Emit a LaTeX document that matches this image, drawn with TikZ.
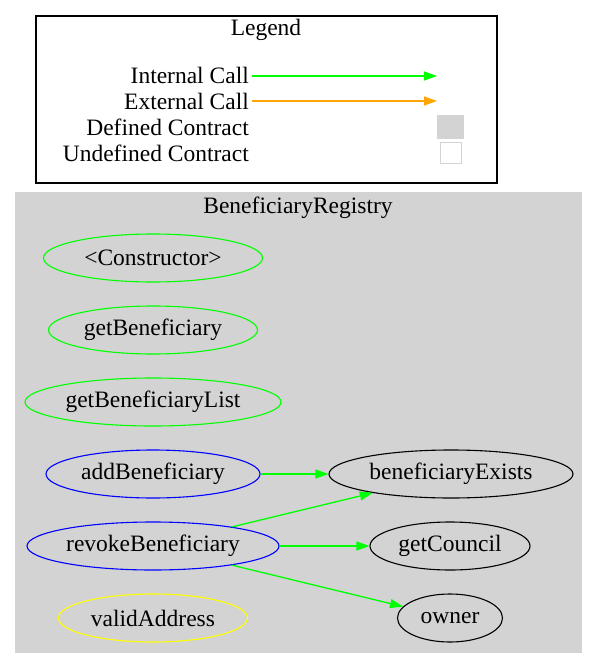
\documentclass[tikz,border=0pt]{standalone}
\usepackage{fontspec}
\setmainfont{Liberation Serif}
\usetikzlibrary{shapes.geometric,arrows.meta}
\definecolor{callgreen}{HTML}{00FF00}
\definecolor{callorange}{HTML}{FFA500}
\definecolor{fnblue}{HTML}{0000FF}
\definecolor{fnyellow}{HTML}{FFFF00}
\definecolor{clustergray}{HTML}{D3D3D3}
\tikzset{
  fn/.style={draw, ellipse, inner sep=0pt, minimum height=48pt, line width=1.1pt},
  call/.style={draw=callgreen, line width=1.3pt, -{Triangle[length=13pt,width=9pt]}},
  key/.style={anchor=east, inner sep=0pt},
}
\begin{document}
\begin{tikzpicture}[x=1pt,y=-1pt, font=\fontsize{23.5}{26}\selectfont]
\useasboundingbox (0,0) rectangle (599,669);
% legend
\path[draw, line width=1.1pt] (36,16) rectangle (497,183);
\node (legend) at (266,30) {Legend};
\node[key] (int) at (249,75) {Internal Call};
\node[key] (ext) at (249,101) {External Call};
\node[key] (def) at (249,127) {Defined Contract};
\node[key] (undef) at (249,153) {Undefined Contract};
\coordinate (intstart) at (252,76);
\coordinate (intend) at (437,76);
\coordinate (extstart) at (252,101);
\coordinate (extend) at (437,101);
\path[draw=callgreen, line width=1.3pt, -{Triangle[length=13pt,width=9pt]}] (intstart) -- (intend);
\path[draw=callorange, line width=1.3pt, -{Triangle[length=13pt,width=9pt]}] (extstart) -- (extend);
\node[fill=clustergray, minimum width=27pt, minimum height=24pt, inner sep=0pt] (defbox) at (450.5,127) {};
\node[draw=clustergray, fill=white, line width=1.3pt, minimum size=21pt, inner sep=0pt] (undefbox) at (451,153) {};

% contract cluster
\path[fill=clustergray] (15,192) rectangle (582,653);
\node (registry) at (298,208) {BeneficiaryRegistry};
\node[fn, draw=callgreen, minimum width=219pt] (ctor) at (153,258) {<Constructor>};
\node[fn, draw=callgreen, minimum width=209pt] (get) at (153,330) {getBeneficiary};
\node[fn, draw=callgreen, minimum width=256pt] (getlist) at (153,402) {getBeneficiaryList};
\node[fn, draw=fnblue, minimum width=214pt] (add) at (153,474) {addBeneficiary};
\node[fn, draw=fnblue, minimum width=252pt] (revoke) at (153,546) {revokeBeneficiary};
\node[fn, draw=fnyellow, minimum width=189pt] (valid) at (153,618) {validAddress};
\node[fn, draw=black, minimum width=244pt] (exists) at (451,474) {beneficiaryExists};
\node[fn, draw=black, minimum width=160pt] (council) at (450,546) {getCouncil};
\node[fn, draw=black, minimum width=105pt] (owner) at (450,618) {owner};

\path[call] (add) -- (exists);
\path[call] (revoke) -- (exists);
\path[call] (revoke) -- (council);
\path[call] (revoke) -- (owner);
\end{tikzpicture}
\end{document}
